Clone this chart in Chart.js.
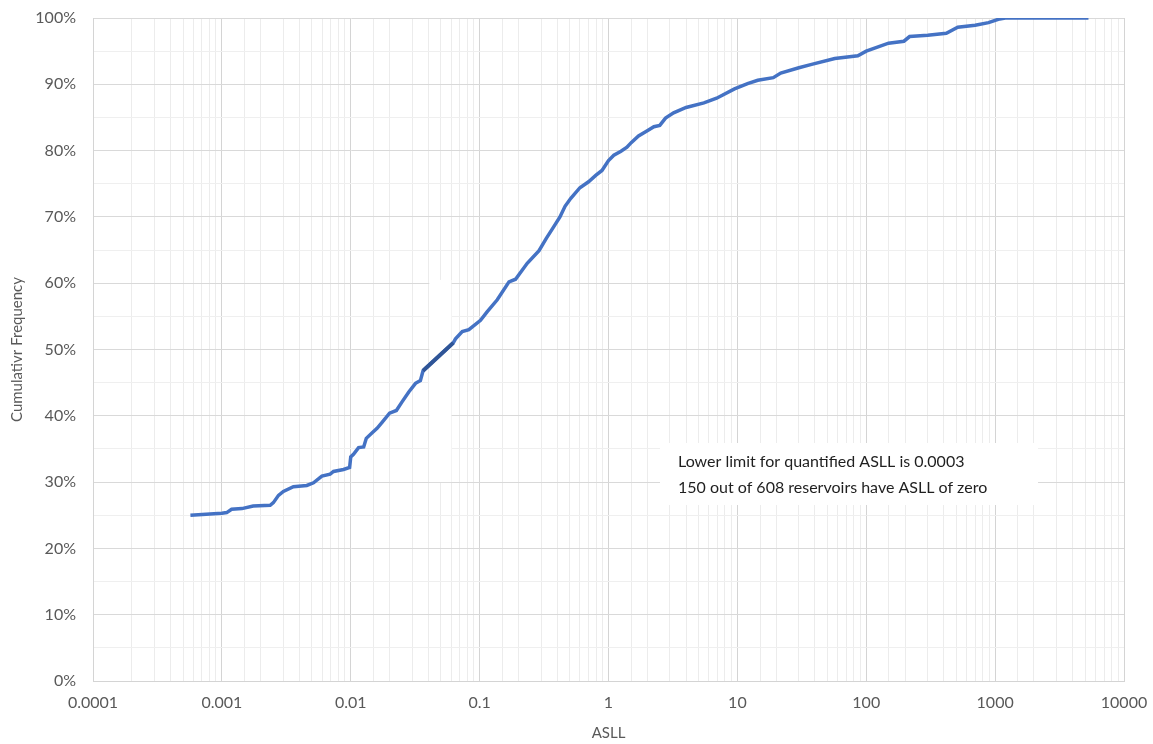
<!DOCTYPE html>
<html>
<head>
<meta charset="utf-8">
<script src="https://cdn.jsdelivr.net/npm/chart.js@4/dist/chart.umd.min.js"></script>
<style>
  html, body { margin: 0; padding: 0; background: #fff; }
  #wrap { width: 1153px; height: 744px; }
</style>
</head>
<body>
<div id="wrap"><canvas id="cdf"></canvas></div>
<script>
// ASLL values (x, log axis) and cumulative frequency in % (y)
const asll = [0.00057, 0.001, 0.00109, 0.00119, 0.00143, 0.00175, 0.00237, 0.00251, 0.00275, 0.0030,
  0.00359, 0.00456, 0.00514, 0.00597, 0.00692, 0.00735, 0.00879, 0.0098, 0.0100, 0.0105,
  0.0115, 0.0126, 0.0132, 0.0146, 0.0160, 0.0175, 0.0200, 0.0226, 0.0250, 0.0282,
  0.0318, 0.0347, 0.0364, 0.0624, 0.065, 0.0733, 0.0825, 0.1016, 0.1146, 0.137,
  0.169, 0.190, 0.234, 0.289, 0.33, 0.37, 0.42, 0.46, 0.51, 0.6,
  0.7, 0.8, 0.89, 1.0, 1.1, 1.25, 1.39, 1.5, 1.71, 2.0,
  2.25, 2.5, 2.77, 3.2, 4.0, 5.5, 6.9, 9.5, 12, 14.4,
  19, 21.7, 30, 37.7, 57, 86, 100, 149, 196, 217,
  300, 418, 513, 700, 889, 1057, 1200, 5300];
const cumFreq = [25.0, 25.3, 25.4, 25.9, 26.0, 26.4, 26.5, 26.9, 28.0, 28.6,
  29.3, 29.5, 29.9, 30.9, 31.2, 31.6, 31.9, 32.2, 33.8, 34.2,
  35.2, 35.3, 36.6, 37.4, 38.1, 39.0, 40.4, 40.8, 42.1, 43.6,
  44.9, 45.3, 46.8, 51.0, 51.6, 52.7, 53.0, 54.4, 55.7, 57.5,
  60.2, 60.6, 63.0, 64.9, 66.8, 68.3, 70.0, 71.6, 72.8, 74.4,
  75.3, 76.3, 77.0, 78.5, 79.3, 79.9, 80.5, 81.2, 82.2, 83.0,
  83.6, 83.8, 84.9, 85.7, 86.5, 87.2, 87.9, 89.3, 90.1, 90.6,
  91.0, 91.7, 92.5, 93.0, 93.9, 94.3, 95.0, 96.2, 96.5, 97.2,
  97.4, 97.7, 98.6, 98.9, 99.3, 99.8, 100, 100];

// darker highlighted segment of the curve
const segX = [0.0364, 0.0624];
const segY = [46.8, 51.0];

const xMin = 0.0001, xMax = 10000;
const yTicks = [0, 10, 20, 30, 40, 50, 60, 70, 80, 90, 100];

const note = [
  "Lower limit for quantified ASLL is 0.0003",
  "150 out of 608 reservoirs have ASLL of zero"
];

const isDecade = v => Math.abs(Math.log10(v) - Math.round(Math.log10(v))) < 1e-6;

// white patches seen on the original (behind the note + a vertical strip)
const overlays = {
  id: "overlays",
  beforeDatasetsDraw(chart) {
    const { ctx, scales } = chart;
    ctx.save();
    ctx.fillStyle = "#ffffff";
    const x0 = scales.x.getPixelForValue(0.0407), x1 = scales.x.getPixelForValue(0.0604);
    const y0 = scales.y.getPixelForValue(60.5), y1 = scales.y.getPixelForValue(30);
    ctx.fillRect(x0, y0, x1 - x0, y1 - y0);
    ctx.fillRect(660, 443, 378, 62);
    ctx.fillStyle = "#1f1f1f";
    ctx.font = "16px Lato";
    ctx.textBaseline = "alphabetic";
    ctx.fillText(note[0], 678, 467);
    ctx.fillText(note[1], 678, 493);
    ctx.restore();
  }
};

new Chart(document.getElementById("cdf"), {
  type: "scatter",
  data: {
    datasets: [
      {
        data: segX.map((x, i) => ({ x: x, y: segY[i] })),
        showLine: true,
        borderColor: "#2f5597",
        borderWidth: 4,
        pointRadius: 0,
        order: 0
      },
      {
        data: asll.map((x, i) => ({ x: x, y: cumFreq[i] })),
        showLine: true,
        borderColor: "#4472c4",
        borderWidth: 3.5,
        pointRadius: 0,
        order: 1
      }
    ]
  },
  options: {
    responsive: true,
    maintainAspectRatio: false,
    animation: false,
    layout: { padding: { left: 0, right: 29, top: 18, bottom: 0 } },
    plugins: { legend: { display: false }, tooltip: { enabled: false } },
    scales: {
      x: {
        type: "logarithmic",
        min: xMin,
        max: xMax,
        afterFit: s => { s.height = 63; s.paddingLeft = 0; s.paddingRight = 0; },
        grid: {
          drawTicks: false,
          color: c => (c.tick && isDecade(c.tick.value)) ? "#d4d4d4" : "#ececec"
        },
        border: { color: "#d4d4d4" },
        ticks: {
          autoSkip: false,
          maxRotation: 0,
          padding: 12,
          color: "#595959",
          font: { family: "Lato", size: 16 },
          callback: v => {
            if (!isDecade(v)) return "";
            const e = Math.round(Math.log10(v));
            return e < 0 ? Math.pow(10, e).toFixed(-e) : String(Math.pow(10, e));
          }
        },
        title: {
          display: true,
          text: "ASLL",
          color: "#595959",
          font: { family: "Lato", size: 15 },
          padding: { top: 0, bottom: 2 }
        }
      },
      y: {
        min: 0,
        max: 100,
        afterFit: s => { s.width = 93; s.paddingTop = 0; s.paddingBottom = 0; },
        grid: {
          drawTicks: false,
          color: c => (c.tick && c.tick.value % 10 === 0) ? "#d9d9d9" : "#efefef"
        },
        border: { color: "#d4d4d4" },
        ticks: {
          stepSize: 5,
          padding: 17,
          color: "#595959",
          font: { family: "Lato", size: 16 },
          callback: v => yTicks.includes(v) ? v + "%" : ""
        },
        title: {
          display: true,
          text: "Cumulativr Frequency",
          color: "#595959",
          font: { family: "Lato", size: 15 },
          padding: { top: 8, bottom: 0 }
        }
      }
    }
  },
  plugins: [overlays]
});
</script>
</body>
</html>
